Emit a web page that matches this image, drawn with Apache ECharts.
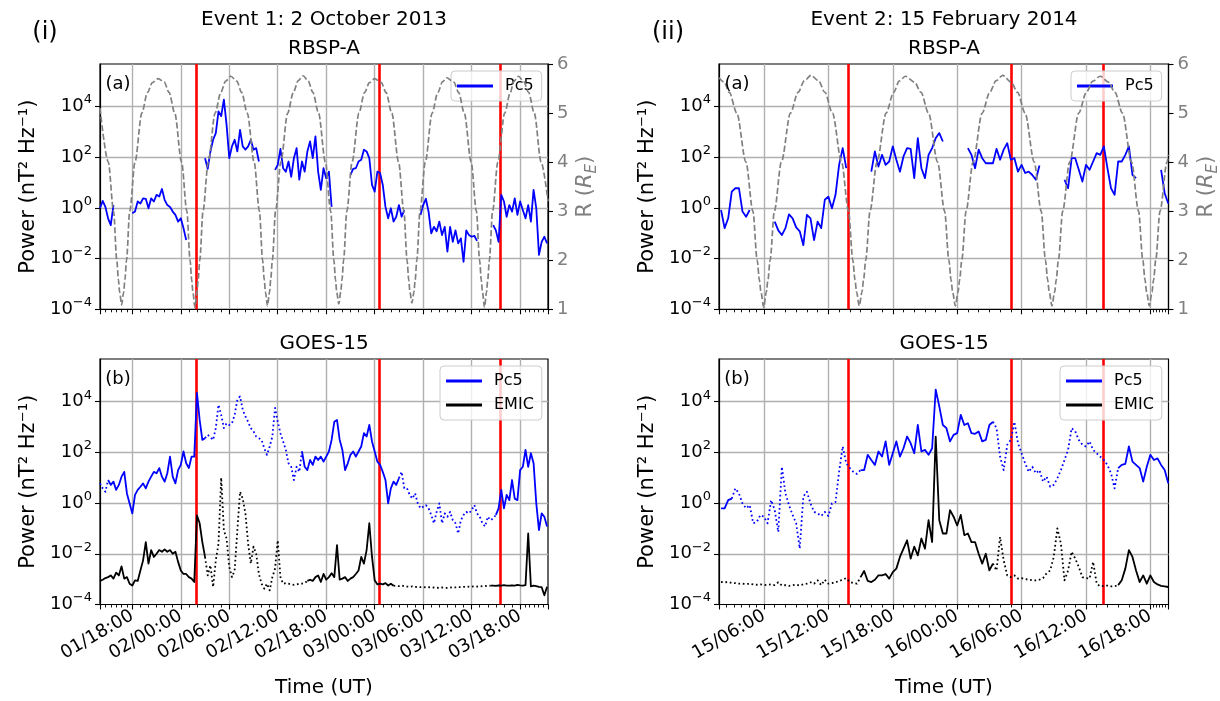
<!DOCTYPE html>
<html>
<head>
<meta charset="utf-8">
<script src="https://cdn.jsdelivr.net/npm/echarts@6.0.0/dist/echarts.min.js"></script>
<style>
html,body{margin:0;padding:0;background:#ffffff;}
#chart{width:1220px;height:701px;}
</style>
</head>
<body>
<div id="chart"></div>
<script>
// ---------------- DATA ----------------
const ev1Epoch = Date.UTC(2013, 9, 1);   // 2013-10-01 00:00 UT
const ev2Epoch = Date.UTC(2014, 1, 15);  // 2014-02-15 00:00 UT
const sampleStepHours = 1 / 3;           // 20-min samples
const ev1SampleStartHours = 14;          // 01/14:00
const ev2SampleStartHours = 2;           // 15/02:00
const ev1RangeHours = [14.0, 69.45];
const ev2RangeHours = [1.81, 43.69];
const ev1EventLinesHours = [25.91, 48.53, 63.53];
const ev2EventLinesHours = [13.83, 29.01, 37.65];
const powerTickExponents = ['−4', '−2', '0', '2', '4'];   // labels 10^-4 ... 10^4
const radiusTickLabels = ['1', '2', '3', '4', '5', '6'];

// RBSP-A Pc5 power, event 1 (nT^2/Hz)
const ev1RbspPc5 = [
 0.97,1.9,1.1,0.39,0.21,1.3,
 null,null,null,null,null,null,
 0.62,0.72,1.8,1.5,2.4,2.3,0.97,2.4,1.8,3.3,2.8,5.6,2.1,1.3,1.1,0.72,0.53,0.29,0.39,0.16,0.054,
 null,null,null,null,null,null,
 92,35,170,490,900,6500,4200,19000,1900,92,270,490,170,1200,270,200,270,490,200,230,68,
 null,null,null,null,null,
 32,50,215,37,27,68,17,92,230,13,68,27,170,420,92,670,27,5.2,37,15,27,1.1,
 null,null,null,null,null,null,
 20,35,37,68,80,200,170,92,8.1,4.4,27,24,8.1,1.1,0.39,0.97,0.29,0.45,1.3,0.45,0.83,
 null,null,null,null,null,
 0.53,1.3,2.3,0.72,0.1,0.18,0.12,0.29,0.085,0.18,0.019,0.18,0.046,0.13,0.04,0.063,0.0075,0.13,0.085,0.073,0.08,0.05,
 null,null,null,null,null,
 0.21,0.13,0.046,3.3,1.8,0.45,1.3,0.72,2.4,0.53,1.8,0.83,0.39,1.3,0.29,5.2,0.97,0.014,0.046,0.073,0.04
];
// RBSP-A Pc5 power, event 2
const ev2RbspPc5 = [
 0.83,0.16,0.39,4.4,6.0,6.0,0.72,0.45,0.83,
 null,null,null,null,null,null,
 0.29,0.13,0.085,0.16,0.56,0.39,0.17,0.12,0.034,0.53,0.39,0.054,0.29,0.16,2.1,2.8,0.97,3.3,50,230,37,
 null,null,null,null,null,null,
 27,170,43,125,50,68,270,80,27,108,230,215,15,570,37,15,125,230,570,900,420,
 null,null,null,null,null,null,
 230,125,37,200,92,58,58,58,215,80,200,360,80,92,27,50,24,27,20,13,47,
 null,null,null,null,null,null,
 13,6.0,92,92,32,11,50,32,68,145,125,270,37,6.0,3.3,68,68,125,270,20,15,
 null,null,null,null,null,null,
 32,3.8,1.5
];
// GOES-15 Pc5 power, event 1
const ev1GoesPc5 = [
 6.0,3.8,2.8,8.1,5.2,7,3.3,5.2,11,17,
 2.4,0.97,0.39,2.1,3.3,4.4,6.0,3.8,7,11,
 17,15,24,11,7,15,68,11,6.0,20,
 32,108,37,24,68,68,22000,1900,310,360,
 490,400,310,900,7500,3000,900,1400,1200,1400,
 3000,12000,16000,4800,2600,1600,900,670,420,360,
 310,145,80,170,420,5600,1600,570,270,125,
 37,27,8.1,27,17,108,27,20,50,32,
 68,50,68,43,68,108,310,1600,1900,310,
 125,20,37,80,108,68,108,170,570,420,
 1200,270,108,43,32,17,8.1,0.97,3.8,7,
 5.2,9.5,17,3.8,3.8,2.1,1.5,2.4,0.97,0.62,
 0.72,0.83,0.62,0.34,0.16,0.45,0.97,0.16,0.39,0.29,
 0.45,0.21,0.16,0.063,0.21,0.34,0.45,0.39,0.53,0.83,
 0.39,0.29,0.16,0.12,0.29,0.21,0.25,0.34,0.62,3.3,
 0.62,2.1,1.3,8.1,1.5,1.3,20,27,125,27,
 92,37,0.97,0.085,0.39,0.29,0.12
];
const ev1GoesPc5Dotted = [[0, 3], [39, 75], [111, 147]];
// GOES-15 EMIC power, event 1
const ev1GoesEmic = [
 8.5e-4,9.5e-4,1.1e-3,1.2e-3,1.4e-3,1.05e-3,1.8e-3,1.4e-3,3.2e-3,1.05e-3,
 1.2e-3,6.6e-4,5.6e-4,9e-4,8.5e-4,2.2e-3,5.5e-3,0.029,4.1e-3,0.014,
 7.5e-3,0.01,0.014,0.012,0.015,0.012,0.014,0.01,0.012,4.8e-3,
 2.2e-3,1.6e-3,1.6e-3,1.2e-3,1.05e-3,7.7e-4,0.33,0.16,0.029,7.5e-3,
 1.4e-3,3.5e-3,4.9e-4,5.5e-3,0.025,10,0.085,0.04,3e-3,1.2e-3,
 2.2e-3,0.085,2.8,1.5,0.39,0.025,4.1e-3,0.019,0.01,1.6e-3,
 6.6e-4,4.2e-4,6.6e-4,3.6e-4,1.2e-3,2.6e-3,0.034,1.2e-3,6.6e-4,7e-4,
 6.6e-4,6.2e-4,6e-4,6.2e-4,6.6e-4,6.6e-4,7e-4,8.5e-4,9.5e-4,8.5e-4,
 1.2e-3,1.4e-3,7.7e-4,1.6e-3,9.5e-4,1.2e-3,1.7e-3,1.2e-3,0.022,9.5e-4,
 1.05e-3,1.2e-3,8.5e-4,1.05e-3,1.2e-3,1.6e-3,2.2e-3,7.5e-3,4.1e-3,0.014,
 0.16,7.5e-3,9e-4,6.2e-4,6.6e-4,6.2e-4,7e-4,5.6e-4,6.6e-4,5.5e-4,
 5.4e-4,5.3e-4,5.6e-4,5.2e-4,5.1e-4,5e-4,5.2e-4,4.9e-4,5e-4,4.8e-4,
 4.9e-4,4.7e-4,4.8e-4,4.6e-4,4.7e-4,4.6e-4,4.5e-4,4.7e-4,4.6e-4,4.5e-4,
 4.6e-4,4.8e-4,4.7e-4,4.9e-4,4.8e-4,5e-4,4.9e-4,5.1e-4,5e-4,5.2e-4,
 5.1e-4,5.3e-4,5.2e-4,5.4e-4,5.3e-4,5.5e-4,5.6e-4,5.4e-4,5.7e-4,5.5e-4,
 5.8e-4,5.6e-4,5.5e-4,5.7e-4,5.6e-4,5.9e-4,5.7e-4,5.6e-4,5.8e-4,0.063,
 5.2e-4,5.5e-4,5.3e-4,5e-4,4.8e-4,2.3e-4,5e-4
];
const ev1GoesEmicDotted = [[39, 77], [109, 145]];
// GOES-15 Pc5 power, event 2
const ev2GoesPc5 = [
 0.62,0.62,1.3,1.5,3.8,2.4,0.97,0.62,0.83,0.16,
 0.18,0.34,0.29,0.16,1.3,0.53,0.073,27,2.4,0.83,
 0.34,0.16,0.016,1.8,2.8,0.97,0.45,0.39,0.31,0.45,
 0.31,0.97,1.1,17,170,37,24,17,14,20,
 20,80,50,32,108,68,270,32,92,270,
 68,145,420,230,92,1200,108,125,80,145,
 30000,6500,1200,900,270,490,570,3000,1200,1400,
 570,540,670,270,310,1200,1600,900,68,20,
 200,310,1600,230,92,37,17,27,15,20,
 7,11,4.4,5.2,9.5,20,50,125,900,670,
 310,200,170,270,125,92,68,50,32,15,
 3.8,24,32,35,170,43,32,24,7,27,
 80,50,58,32,20,6.0
];
const ev2GoesPc5Dotted = [[3, 39], [76, 111]];
// GOES-15 EMIC power, event 2
const ev2GoesEmic = [
 7.7e-4,7.5e-4,7.7e-4,7e-4,7e-4,6.6e-4,6.6e-4,6.4e-4,6.6e-4,6.2e-4,
 6e-4,6.2e-4,5.8e-4,6e-4,6.2e-4,5.8e-4,7.5e-4,5.6e-4,5.8e-4,5.4e-4,
 5.8e-4,6e-4,5.6e-4,6.2e-4,6.6e-4,7.5e-4,6.6e-4,9e-4,5.8e-4,9.5e-4,
 6.6e-4,7e-4,7.5e-4,8.5e-4,9.5e-4,1.1e-3,7.7e-4,7e-4,6.6e-4,1.2e-3,
 2.1e-3,8.5e-4,7.7e-4,9.5e-4,1.4e-3,1.4e-3,1.6e-3,1.05e-3,1.9e-3,2.6e-3,
 7.5e-3,0.016,0.034,6.5e-3,0.019,8.7e-3,0.04,0.016,0.21,0.029,
 420,0.21,0.063,0.063,0.53,0.29,0.13,0.34,0.054,0.063,
 0.029,0.029,0.01,4.1e-3,0.01,2.2e-3,4.1e-3,2.2e-3,0.046,5.5e-3,
 1.4e-3,1.2e-3,1.4e-3,1.05e-3,1.1e-3,1e-3,9.5e-4,9e-4,9e-4,9.5e-4,
 1.1e-3,1.7e-3,2.2e-3,7.5e-3,0.1,0.025,9e-4,2.2e-3,0.012,6.5e-3,
 3e-3,1.2e-3,1.1e-3,1.05e-3,4.8e-3,6.6e-4,5.2e-4,5.4e-4,5.6e-4,5.2e-4,
 5.2e-4,5.8e-4,9e-4,2.6e-3,0.014,7.5e-3,2.2e-3,7.7e-4,1.4e-3,6.6e-4,
 1.4e-3,7.7e-4,6.2e-4,5.4e-4,5.2e-4,4.9e-4
];
const ev2GoesEmicDotted = [[0, 39], [76, 111]];

// RBSP-A radial distance R (R_E): [hours since epoch, R]
const ev1OrbitR = [
 [14.00,5.10],[15.03,4.0],[15.68,3.0],[16.08,2.0],[16.28,1.6],[16.43,1.35],[16.68,1.09],[16.93,1.35],[17.08,1.6],[17.28,2.0],[17.68,3.0],[18.33,4.0],[19.18,5.0],[19.88,5.42],[20.48,5.62],[21.21,5.70],
 [21.95,5.63],[22.55,5.42],[23.25,5.0],[24.10,4.0],[24.75,3.0],[25.15,2.0],[25.35,1.6],[25.50,1.35],[25.75,1.04],[26.00,1.35],[26.15,1.6],[26.35,2.0],[26.75,3.0],[27.40,4.0],[28.25,5.0],[28.95,5.42],[29.55,5.65],[30.20,5.75],
 [30.93,5.65],[31.53,5.42],[32.23,5.0],[33.08,4.0],[33.73,3.0],[34.13,2.0],[34.33,1.6],[34.48,1.35],[34.73,1.07],[34.98,1.35],[35.13,1.6],[35.33,2.0],[35.73,3.0],[36.38,4.0],[37.23,5.0],[37.93,5.42],[38.53,5.66],[39.14,5.76],
 [39.75,5.66],[40.35,5.42],[41.05,5.0],[41.90,4.0],[42.55,3.0],[42.95,2.0],[43.15,1.6],[43.30,1.35],[43.55,1.11],[43.80,1.35],[43.95,1.6],[44.15,2.0],[44.55,3.0],[45.20,4.0],[46.05,5.0],[46.75,5.42],[47.35,5.62],[48.00,5.70],
 [48.81,5.62],[49.41,5.42],[50.11,5.0],[50.96,4.0],[51.61,3.0],[52.01,2.0],[52.21,1.6],[52.36,1.35],[52.61,1.13],[52.86,1.35],[53.01,1.6],[53.21,2.0],[53.61,3.0],[54.26,4.0],[55.11,5.0],[55.81,5.42],[56.41,5.64],[56.90,5.72],
 [57.79,5.63],[58.39,5.42],[59.09,5.0],[59.94,4.0],[60.59,3.0],[60.99,2.0],[61.19,1.6],[61.34,1.35],[61.59,1.04],[61.84,1.35],[61.99,1.6],[62.19,2.0],[62.59,3.0],[63.24,4.0],[64.09,5.0],[64.79,5.42],[65.20,5.64],[65.80,5.75],
 [66.45,5.64],[67.05,5.42],[67.75,5.0],[68.60,4.0],[69.45,3.2]
];
const ev2OrbitR = [
 [1.81,5.72],[2.30,5.63],[2.77,5.42],[3.47,5.0],[4.32,4.0],[4.97,3.0],[5.37,2.0],[5.57,1.6],[5.72,1.35],[5.97,1.04],[6.22,1.35],[6.37,1.6],[6.57,2.0],[6.97,3.0],[7.62,4.0],[8.47,5.0],[9.17,5.42],[9.77,5.66],[10.38,5.77],
 [11.08,5.66],[11.68,5.42],[12.38,5.0],[13.23,4.0],[13.88,3.0],[14.28,2.0],[14.48,1.6],[14.63,1.35],[14.88,1.07],[15.13,1.35],[15.28,1.6],[15.48,2.0],[15.88,3.0],[16.53,4.0],[17.38,5.0],[18.08,5.42],[18.60,5.65],[19.17,5.75],
 [20.03,5.63],[20.63,5.42],[21.33,5.0],[22.18,4.0],[22.83,3.0],[23.23,2.0],[23.43,1.6],[23.58,1.35],[23.83,1.07],[24.08,1.35],[24.23,1.6],[24.43,2.0],[24.83,3.0],[25.48,4.0],[26.33,5.0],[27.03,5.42],[27.63,5.66],[28.24,5.77],
 [29.03,5.63],[29.63,5.42],[30.33,5.0],[31.18,4.0],[31.83,3.0],[32.23,2.0],[32.43,1.6],[32.58,1.35],[32.83,1.07],[33.08,1.35],[33.23,1.6],[33.43,2.0],[33.83,3.0],[34.48,4.0],[35.33,5.0],[36.03,5.42],[36.63,5.65],[37.33,5.75],
 [38.10,5.63],[38.70,5.42],[39.40,5.0],[40.25,4.0],[40.90,3.0],[41.30,2.0],[41.50,1.6],[41.65,1.35],[41.90,1.07],[42.15,1.35],[42.30,1.6],[42.50,2.0],[42.90,3.0],[43.55,4.0],[43.69,4.15]
];

// ---------------- BUILD ----------------
const H = 3600 * 1000;
const FONT = 'DejaVu Sans';
const BLUE = '#0000ff', BLACK = '#000000', RED = '#ff0000', GREY = '#808080', GRIDC = '#b0b0b0';
const DOT = [1.7, 2.7];
const DASH = [6, 2.6];

function timeOf(epoch, h) { return epoch + h * H; }
function sampled(epoch, startH, vals) {
  return vals.map((v, i) => [timeOf(epoch, startH + i * sampleStepHours), v]);
}
function inRanges(i, ranges, strict) {
  return ranges.some(r => strict ? (i > r[0] && i < r[1]) : (i >= r[0] && i <= r[1]));
}
function split(epoch, startH, vals, ranges) {
  const pts = sampled(epoch, startH, vals);
  return {
    solid: pts.map((p, i) => inRanges(i, ranges, true) ? [p[0], null] : p),
    dotted: pts.map((p, i) => inRanges(i, ranges, false) ? p : [p[0], null])
  };
}
function orbit(epoch, pts) { return pts.map(p => [timeOf(epoch, p[0]), p[1]]); }

function powerLabel(v) {
  const e = Math.round(Math.log10(v));
  const s = (e < 0 ? '−' : '') + Math.abs(e);
  return powerTickExponents.indexOf(s) >= 0 ? '{b|10}{s|' + s + '}' : '';
}
function pad2(n) { return (n < 10 ? '0' : '') + n; }
function timeLabel(v) {
  const d = new Date(v);
  return pad2(d.getUTCDate()) + '/' + pad2(d.getUTCHours()) + ':' + pad2(d.getUTCMinutes());
}

function gridBox(left, top, width, height) {
  return { left, top, width, height, show: true, borderColor: '#000', borderWidth: 1.2,
           backgroundColor: 'transparent', containLabel: false, outerBoundsMode: 'none' };
}
function makeX(gi, epoch, range, showLabels) {
  return {
    type: 'time', gridIndex: gi, min: timeOf(epoch, range[0]), max: timeOf(epoch, range[1]),
    minInterval: 6.5 * H, maxInterval: 6.5 * H, splitNumber: 8,
    axisLine: { show: true, onZero: false, lineStyle: { color: '#000', width: 1.2 } },
    axisTick: { show: true, length: 5, lineStyle: { color: '#000', width: 1.1 } },
    minorTick: { show: true, splitNumber: 6, length: 3, lineStyle: { color: '#000', width: 0.9 } },
    splitLine: { show: true, showMinLine: false, showMaxLine: false, lineStyle: { color: GRIDC, width: 1.4 } },
    axisLabel: { show: showLabels, rotate: 30, margin: 10, fontSize: 18, fontFamily: FONT, color: '#000',
                 formatter: timeLabel, showMinLabel: false, showMaxLabel: false, hideOverlap: false }
  };
}
function makeLogY(gi) {
  return {
    type: 'log', logBase: 10, gridIndex: gi, min: 1e-4, max: 4.8e5, interval: 2,
    axisLine: { show: true, onZero: false, lineStyle: { color: '#000', width: 1.2 } },
    axisTick: { show: true, length: 5, lineStyle: { color: '#000', width: 1.1 } },
    splitLine: { show: true, showMinLine: false, showMaxLine: false, lineStyle: { color: GRIDC, width: 1.4 } },
    axisLabel: { fontSize: 18, fontFamily: FONT, color: '#000', margin: 8, formatter: powerLabel,
                 showMaxLabel: false, hideOverlap: false,
                 rich: { b: { fontSize: 18, fontFamily: FONT, color: '#000', lineHeight: 26 },
                         s: { fontSize: 13, fontFamily: FONT, color: '#000', lineHeight: 13, verticalAlign: 'top' } } },
    name: 'Power (nT² Hz⁻¹)', nameLocation: 'middle', nameGap: 61, nameMoveOverlap: false,
    nameTextStyle: { fontSize: 21, fontFamily: FONT, color: '#000' }
  };
}
function makeRY(gi) {
  return {
    type: 'value', gridIndex: gi, position: 'right', min: 1, max: 6, interval: 1,
    axisLine: { show: true, onZero: false, lineStyle: { color: '#000', width: 1.2 } },
    axisTick: { show: true, length: 5, lineStyle: { color: '#000', width: 1.1 } },
    splitLine: { show: false },
    axisLabel: { fontSize: 18, fontFamily: FONT, color: GREY, margin: 9, hideOverlap: false,
                 formatter: v => radiusTickLabels[Math.round(v) - 1] },
    name: '{a|R (}{b|R}{c|E}{a|)}', nameLocation: 'middle', nameGap: 24, nameMoveOverlap: false,
    nameTextStyle: { fontSize: 21, fontFamily: FONT, color: GREY,
      rich: { a: { fontSize: 21, fontFamily: FONT, color: GREY, lineHeight: 28 },
              b: { fontSize: 21, fontFamily: FONT, color: GREY, fontStyle: 'italic', lineHeight: 28 },
              c: { fontSize: 15, fontFamily: FONT, color: GREY, fontStyle: 'italic', lineHeight: 15, verticalAlign: 'bottom' } } }
  };
}
function line(name, xi, yi, data, color, dash, z, extra) {
  return Object.assign({
    name, type: 'line', xAxisIndex: xi, yAxisIndex: yi, data,
    symbol: 'none', showSymbol: false, silent: true, connectNulls: false,
    lineStyle: { color, width: 1.8, type: dash || 'solid', cap: 'butt', join: 'round' },
    itemStyle: { color }, z: z || 3, emphasis: { disabled: true }
  }, extra || {});
}
function redMarks(epoch, hours) {
  return { silent: true, symbol: ['none', 'none'], z: 3, animation: false, label: { show: false },
           emphasis: { disabled: true }, lineStyle: { color: RED, width: 2.6, type: 'solid' },
           data: hours.map(h => ({ xAxis: timeOf(epoch, h) })) };
}
function legendBox(left, top, names) {
  return {
    left, top, orient: 'vertical', icon: 'rect', itemWidth: 36, itemHeight: 3, itemGap: 8,
    padding: [7, 8, 7, 6], backgroundColor: 'rgba(255,255,255,0.8)', borderColor: '#cccccc',
    borderWidth: 1, borderRadius: 4, selectedMode: false, z: 4,
    textStyle: { fontSize: 16, fontFamily: FONT, color: '#000', padding: [0, 0, 0, 7] },
    data: names.map(n => ({ name: n }))
  };
}
function txt(text, x, y, size, color) {
  return { type: 'text', x, y, silent: true, z: 10,
           style: { text, fill: color || '#000', font: size + 'px "' + FONT + '"',
                    textAlign: 'center', textVerticalAlign: 'middle' } };
}

const g1p = split(ev1Epoch, ev1SampleStartHours, ev1GoesPc5, ev1GoesPc5Dotted);
const g1e = split(ev1Epoch, ev1SampleStartHours, ev1GoesEmic, ev1GoesEmicDotted);
const g2p = split(ev2Epoch, ev2SampleStartHours, ev2GoesPc5, ev2GoesPc5Dotted);
const g2e = split(ev2Epoch, ev2SampleStartHours, ev2GoesEmic, ev2GoesEmicDotted);

const rExtra = { smooth: 0.3, smoothMonotone: 'x', lineStyle: { color: GREY, width: 1.7, type: DASH, cap: 'butt' } };

const option = {
  useUTC: true,
  animation: false,
  backgroundColor: '#ffffff',
  textStyle: { fontFamily: FONT },
  grid: [
    gridBox(100, 64, 448, 245.3),
    gridBox(719, 64, 449.5, 245.3),
    gridBox(100, 359, 448, 245.5),
    gridBox(719, 359, 449.5, 245.5)
  ],
  xAxis: [
    makeX(0, ev1Epoch, ev1RangeHours, false),
    makeX(1, ev2Epoch, ev2RangeHours, false),
    makeX(2, ev1Epoch, ev1RangeHours, true),
    makeX(3, ev2Epoch, ev2RangeHours, true)
  ],
  yAxis: [ makeLogY(0), makeRY(0), makeLogY(1), makeRY(1), makeLogY(2), makeLogY(3) ],
  legend: [
    legendBox(451, 71, ['Pc5']),
    legendBox(1071, 71, ['Pc5']),
    legendBox(440, 366, ['Pc5', 'EMIC']),
    legendBox(1060, 366, ['Pc5', 'EMIC'])
  ],
  series: [
    // Event 1 RBSP-A
    line('Pc5', 0, 0, sampled(ev1Epoch, ev1SampleStartHours, ev1RbspPc5), BLUE, null, 3,
         { markLine: redMarks(ev1Epoch, ev1EventLinesHours) }),
    line('R', 0, 1, orbit(ev1Epoch, ev1OrbitR), GREY, DASH, 6, rExtra),
    // Event 2 RBSP-A
    line('Pc5', 1, 2, sampled(ev2Epoch, ev2SampleStartHours, ev2RbspPc5), BLUE, null, 3,
         { markLine: redMarks(ev2Epoch, ev2EventLinesHours) }),
    line('R', 1, 3, orbit(ev2Epoch, ev2OrbitR), GREY, DASH, 6, rExtra),
    // Event 1 GOES-15
    line('Pc5', 2, 4, g1p.solid, BLUE, null, 3, { markLine: redMarks(ev1Epoch, ev1EventLinesHours) }),
    line('Pc5 (flagged)', 2, 4, g1p.dotted, BLUE, DOT, 3),
    line('EMIC', 2, 4, g1e.solid, BLACK, null, 3),
    line('EMIC (flagged)', 2, 4, g1e.dotted, BLACK, DOT, 3),
    // Event 2 GOES-15
    line('Pc5', 3, 5, g2p.solid, BLUE, null, 3, { markLine: redMarks(ev2Epoch, ev2EventLinesHours) }),
    line('Pc5 (flagged)', 3, 5, g2p.dotted, BLUE, DOT, 3),
    line('EMIC', 3, 5, g2e.solid, BLACK, null, 3),
    line('EMIC (flagged)', 3, 5, g2e.dotted, BLACK, DOT, 3)
  ],
  graphic: [
    txt('(i)', 45, 33, 24), txt('(ii)', 668, 33, 24),
    txt('Event 1: 2 October 2013', 324, 20, 20), txt('Event 2: 15 February 2014', 944, 20, 20),
    txt('RBSP-A', 324, 49, 20), txt('RBSP-A', 944, 49, 20),
    txt('GOES-15', 324, 344, 20), txt('GOES-15', 944, 344, 20),
    txt('(a)', 118, 84, 18), txt('(a)', 737, 84, 18),
    txt('(b)', 118, 379, 18), txt('(b)', 737, 379, 18),
    txt('Time (UT)', 324, 688, 20), txt('Time (UT)', 944, 688, 20)
  ]
};

const chart = echarts.init(document.getElementById('chart'), null, { renderer: 'canvas', width: 1220, height: 701 });
chart.setOption(option);
</script>
</body>
</html>
